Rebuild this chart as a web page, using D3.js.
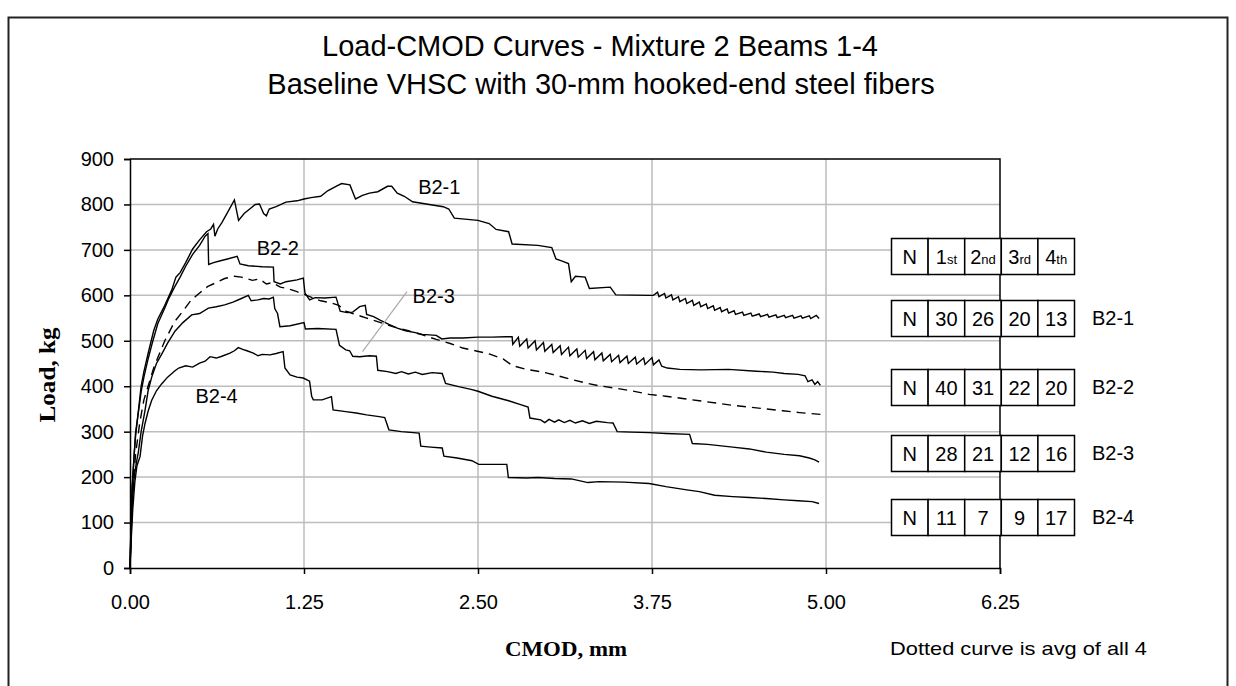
<!DOCTYPE html>
<html>
<head>
<meta charset="utf-8">
<script src="https://cdn.jsdelivr.net/npm/d3@7"></script>
<style>
  body { margin: 0; background: #fff; }
  svg { display: block; }
  text { font-family: "Liberation Sans", Arial, sans-serif; fill: #000; }
</style>
</head>
<body>
<svg></svg>
<script>
// Load-CMOD curves, mixture 2 beams 1-4

const xTicks = [0, 1.25, 2.5, 3.75, 5.0, 6.25];
const yTicks = [0, 100, 200, 300, 400, 500, 600, 700, 800, 900];

// [CMOD mm, load kg]
const b21 = [[0,0],[0.005,60],[0.01,130],[0.015,180],[0.02,200],[0.03,250],[0.04,290],[0.06,345],[0.08,400],[0.1,432],
  [0.13,472],[0.17,522],[0.2,548],[0.25,578],[0.3,612],[0.33,640],[0.36,650],[0.4,672],[0.45,702],[0.5,722],[0.55,740],
  [0.58,746],[0.6,756],[0.61,730],[0.63,746],[0.66,760],[0.7,782],[0.75,810],[0.78,765],[0.82,780],[0.86,790],[0.9,800],
  [0.93,801],[0.96,780],[0.98,775],[1.0,790],[1.05,795],[1.12,805],[1.2,808],[1.25,812],[1.3,815],[1.37,818],[1.42,830],
  [1.48,840],[1.52,846],[1.58,843],[1.62,812],[1.67,820],[1.72,825],[1.78,828],[1.85,840],[1.88,840],[1.92,825],[1.97,818],
  [2.03,806],[2.15,800],[2.25,795],[2.29,790],[2.33,770],[2.5,765],[2.58,758],[2.63,745],[2.72,740],[2.745,713],[2.93,710],
  [3.03,705],[3.06,680],[3.1,676],[3.15,670],[3.17,630],[3.2,642],[3.27,640],[3.3,615],[3.45,618],[3.49,601],[3.73,600],
  [3.76,600],[3.79,607],[3.8,597],[3.84,604],[3.85,594],[3.89,601],[3.9,590],[3.94,597],[3.95,586],[3.99,593],[4.0,582],
  [4.04,589],[4.05,578],[4.09,585],[4.1,575],[4.14,581],[4.15,571],[4.19,577],[4.2,567],[4.24,573],[4.25,564],[4.29,570],
  [4.3,561],[4.34,566],[4.35,558],[4.4,563],[4.41,556],[4.46,561],[4.47,554],[4.52,559],[4.53,553],[4.58,558],[4.59,552],
  [4.64,557],[4.65,551],[4.7,556],[4.71,551],[4.76,556],[4.77,550],[4.82,555],[4.83,550],[4.88,555],[4.89,549],[4.93,556],[4.95,549]];

const b22 = [[0,0],[0.005,70],[0.01,140],[0.02,200],[0.03,250],[0.04,298],[0.06,342],[0.08,388],[0.1,420],[0.13,460],
  [0.16,495],[0.2,538],[0.25,572],[0.28,594],[0.32,618],[0.36,640],[0.4,664],[0.45,690],[0.5,710],[0.54,730],[0.56,736],
  [0.565,668],[0.6,672],[0.65,676],[0.7,680],[0.77,686],[0.79,669],[0.85,665],[0.95,663],[1.03,662],[1.035,630],[1.08,625],
  [1.12,630],[1.2,634],[1.245,638],[1.257,605],[1.29,590],[1.33,595],[1.4,594],[1.48,596],[1.51,565],[1.56,562],[1.6,563],
  [1.65,575],[1.69,578],[1.7,558],[1.75,553],[1.8,545],[1.86,536],[1.92,528],[1.98,522],[2.05,518],[2.1,514],[2.2,512],
  [2.24,504],[2.3,506],[2.39,506],[2.5,508],[2.6,508],[2.7,509],[2.745,509],[2.75,492],[2.79,508],[2.8,488],[2.85,504],
  [2.86,484],[2.91,500],[2.92,480],[2.97,496],[2.98,477],[3.03,492],[3.04,474],[3.09,489],[3.1,470],[3.15,486],[3.16,467],
  [3.21,482],[3.22,464],[3.27,479],[3.28,461],[3.33,476],[3.34,458],[3.39,473],[3.4,456],[3.45,470],[3.46,454],[3.51,468],
  [3.52,452],[3.57,466],[3.58,450],[3.63,464],[3.64,449],[3.69,462],[3.7,448],[3.75,463],[3.76,447],[3.8,458],[3.82,444],
  [3.86,440],[3.95,437],[4.1,436],[4.3,437],[4.5,433],[4.62,431],[4.7,428],[4.8,426],[4.85,423],[4.87,410],[4.9,414],
  [4.92,404],[4.94,410],[4.96,402]];

const b23 = [[0,0],[0.01,90],[0.02,160],[0.03,200],[0.045,230],[0.06,255],[0.08,300],[0.108,347],[0.13,390],[0.156,420],
  [0.19,450],[0.227,470],[0.27,495],[0.323,521],[0.38,540],[0.443,557],[0.5,560],[0.563,572],[0.62,575],[0.68,579],
  [0.74,585],[0.8,593],[0.85,600],[0.87,588],[0.92,590],[0.96,593],[1.0,592],[1.03,596],[1.04,571],[1.06,560],[1.077,531],
  [1.15,533],[1.25,540],[1.26,526],[1.35,527],[1.48,525],[1.505,490],[1.55,480],[1.578,478],[1.6,466],[1.65,465],[1.72,467],
  [1.77,466],[1.78,435],[1.85,432],[1.91,428],[1.95,432],[2.0,427],[2.05,431],[2.1,426],[2.17,430],[2.243,428],[2.267,406],
  [2.36,399],[2.45,393],[2.5,389],[2.6,378],[2.72,368],[2.8,360],[2.86,354],[2.873,330],[2.95,326],[2.98,320],[3.01,327],
  [3.05,321],[3.08,326],[3.12,320],[3.16,325],[3.2,319],[3.25,324],[3.3,318],[3.35,323],[3.43,320],[3.47,319],[3.5,300],
  [3.6,299],[3.73,298],[3.85,296],[4.02,294],[4.04,274],[4.15,272],[4.33,266],[4.45,262],[4.57,255],[4.7,250],[4.81,247],
  [4.88,242],[4.92,238],[4.95,233]];

const b24 = [[0,0],[0.01,70],[0.02,130],[0.035,190],[0.05,225],[0.072,245],[0.09,290],[0.108,318],[0.13,345],[0.156,369],
  [0.19,390],[0.227,405],[0.27,420],[0.323,434],[0.35,440],[0.4,445],[0.45,442],[0.5,451],[0.54,455],[0.575,465],[0.62,462],
  [0.66,466],[0.718,473],[0.75,478],[0.778,485],[0.81,481],[0.84,478],[0.886,473],[0.92,467],[0.95,470],[1.006,469],
  [1.05,472],[1.1,476],[1.113,440],[1.15,425],[1.2,420],[1.245,418],[1.29,411],[1.305,378],[1.317,370],[1.38,370],
  [1.447,377],[1.459,348],[1.55,344],[1.625,341],[1.7,337],[1.79,333],[1.83,331],[1.86,304],[1.95,300],[2.077,297],
  [2.089,268],[2.16,266],[2.243,264],[2.255,246],[2.35,242],[2.457,236],[2.505,228],[2.6,228],[2.707,228],[2.718,199],
  [2.85,198],[2.932,199],[3.05,197],[3.17,196],[3.29,188],[3.37,190],[3.55,189],[3.73,186],[3.85,179],[4.0,172],[4.09,168],
  [4.2,160],[4.33,157],[4.45,155],[4.57,153],[4.7,150],[4.8,148],[4.9,146],[4.95,142]];

// average of the four beams (dashed)
const avg = [[0,0],[0.01,100],[0.02,170],[0.04,250],[0.07,320],[0.1,370],[0.13,400],[0.17,440],[0.2,463],[0.25,500],
  [0.32,542],[0.38,565],[0.44,590],[0.5,605],[0.56,620],[0.62,628],[0.68,637],[0.75,642],[0.8,640],[0.88,633],[0.93,636],
  [0.98,625],[1.02,628],[1.08,618],[1.13,615],[1.2,608],[1.25,602],[1.3,596],[1.37,588],[1.45,583],[1.5,578],[1.55,565],
  [1.6,560],[1.7,550],[1.8,540],[1.9,530],[2.0,522],[2.1,513],[2.2,503],[2.3,494],[2.39,484],[2.48,478],[2.58,471],
  [2.68,460],[2.75,445],[2.85,437],[2.95,432],[3.05,425],[3.17,415],[3.29,406],[3.37,401],[3.5,395],[3.6,390],[3.73,382],
  [3.85,378],[3.97,373],[4.09,368],[4.21,363],[4.33,358],[4.45,354],[4.57,350],[4.69,346],[4.81,342],[4.96,338]];

const curveLabels = [
  {name: 'B2-1', cmod: 2.07, load: 822},
  {name: 'B2-2', cmod: 0.91, load: 688},
  {name: 'B2-3', cmod: 2.03, load: 583},
  {name: 'B2-4', cmod: 0.47, load: 362}
];

// crack counts per table
const tableHeader = ['N', '1st', '2nd', '3rd', '4th'];
const beams = ['B2-1', 'B2-2', 'B2-3', 'B2-4'];
const counts = [[30, 26, 20, 13], [40, 31, 22, 20], [28, 21, 12, 16], [11, 7, 9, 17]];

const W = 1236, H = 686;
const svg = d3.select('svg').attr('width', W).attr('height', H);

// outer frame
svg.append('rect')
  .attr('x', 8.5).attr('y', 17.5).attr('width', 1219).attr('height', 700)
  .attr('fill', 'none').attr('stroke', '#222').attr('stroke-width', 2);

svg.append('text')
  .attr('x', 600).attr('y', 56).attr('text-anchor', 'middle')
  .style('font-size', '29px')
  .text('Load-CMOD Curves - Mixture 2 Beams 1-4');
svg.append('text')
  .attr('x', 601).attr('y', 94).attr('text-anchor', 'middle')
  .style('font-size', '29px')
  .text('Baseline VHSC with 30-mm hooked-end steel fibers');

const x = d3.scaleLinear().domain([0, 6.25]).range([130, 1000]);
const y = d3.scaleLinear().domain([0, 900]).range([568, 159]);

// grid
svg.append('g').selectAll('line')
  .data(yTicks.filter(d => d > 0 && d < 900))
  .join('line')
  .attr('x1', x(0)).attr('x2', x(6.25))
  .attr('y1', d => y(d)).attr('y2', d => y(d))
  .attr('stroke', '#bdbdbd').attr('stroke-width', 1.5);
svg.append('g').selectAll('line')
  .data(xTicks.filter(d => d > 0 && d < 6.25))
  .join('line')
  .attr('x1', d => x(d)).attr('x2', d => x(d))
  .attr('y1', y(0)).attr('y2', y(900))
  .attr('stroke', '#bdbdbd').attr('stroke-width', 1.5);

// top and right border of the plot area
svg.append('path')
  .attr('d', `M${x(0)},${y(900)}H${x(6.25)}V${y(0)}`)
  .attr('fill', 'none').attr('stroke', '#000').attr('stroke-width', 1.5);

const yAxis = svg.append('g')
  .attr('transform', `translate(${x(0)},0)`)
  .call(d3.axisLeft(y).tickValues(yTicks).tickSize(6).tickPadding(10).tickFormat(d3.format('d')));
const xAxis = svg.append('g')
  .attr('transform', `translate(0,${y(0)})`)
  .call(d3.axisBottom(x).tickValues(xTicks).tickSize(6).tickFormat(d3.format('.2f')));

[yAxis, xAxis].forEach(g => {
  g.select('.domain').attr('stroke', '#000').attr('stroke-width', 1.5);
  g.selectAll('.tick line').attr('stroke', '#000').attr('stroke-width', 1.5);
  g.selectAll('.tick text')
    .style('font-family', '"Liberation Sans", Arial, sans-serif')
    .style('font-size', '20px').attr('fill', '#000');
});
xAxis.selectAll('.tick text').attr('y', 27);

svg.append('text')
  .attr('transform', 'translate(55,375) rotate(-90)')
  .attr('text-anchor', 'middle')
  .attr('textLength', 95).attr('lengthAdjust', 'spacingAndGlyphs')
  .style('font-family', '"Liberation Serif", serif').style('font-weight', 'bold').style('font-size', '23px')
  .text('Load, kg');
svg.append('text')
  .attr('x', 566).attr('y', 656).attr('text-anchor', 'middle')
  .attr('textLength', 122).attr('lengthAdjust', 'spacingAndGlyphs')
  .style('font-family', '"Liberation Serif", serif').style('font-weight', 'bold').style('font-size', '22px')
  .text('CMOD, mm');
svg.append('text')
  .attr('x', 890).attr('y', 655)
  .attr('textLength', 257).attr('lengthAdjust', 'spacingAndGlyphs')
  .style('font-size', '19px')
  .text('Dotted curve is avg of all 4');

// curves
const line = d3.line().x(d => x(d[0])).y(d => y(d[1]));
const series = [
  {data: b21, dash: null},
  {data: b22, dash: null},
  {data: b23, dash: null},
  {data: b24, dash: null},
  {data: avg, dash: '9,6'}
];
svg.append('g').selectAll('path')
  .data(series)
  .join('path')
  .attr('d', d => line(d.data))
  .attr('fill', 'none')
  .attr('stroke', '#000')
  .attr('stroke-width', 1.4)
  .attr('stroke-dasharray', d => d.dash);

// leader line for B2-3
svg.append('line')
  .attr('x1', x(1.99)).attr('y1', y(608))
  .attr('x2', x(1.67)).attr('y2', y(476))
  .attr('stroke', '#aaa').attr('stroke-width', 1.2);

svg.append('g').selectAll('text')
  .data(curveLabels)
  .join('text')
  .attr('x', d => x(d.cmod)).attr('y', d => y(d.load))
  .style('font-size', '20px')
  .text(d => d.name);

// crack-count tables
const col = d3.scaleBand().domain(d3.range(5)).range([891, 1074]);
const rowTops = [238, 300, 369, 435, 499];
const rowH = 36;
const rows = [tableHeader].concat(counts.map(c => ['N'].concat(c)));

const tables = svg.append('g').selectAll('g')
  .data(rows)
  .join('g')
  .attr('transform', (d, i) => `translate(0,${rowTops[i]})`);

tables.selectAll('rect')
  .data(d => d.map((v, j) => ({v, j})))
  .join('rect')
  .attr('x', d => col(d.j) + 0.5).attr('y', 0.5)
  .attr('width', col.bandwidth()).attr('height', rowH)
  .attr('fill', '#fff').attr('stroke', '#000').attr('stroke-width', 1.5);

tables.each(function(d, i) {
  const g = d3.select(this);
  d.forEach((v, j) => {
    const t = g.append('text')
      .attr('x', col(j) + col.bandwidth() / 2 + 0.5).attr('y', rowH / 2 + 8)
      .attr('text-anchor', 'middle')
      .style('font-size', '20px');
    const s = String(v);
    const m = s.match(/^(\d)(st|nd|rd|th)$/);
    if (m) {
      t.append('tspan').text(m[1]);
      t.append('tspan').style('font-size', '13px').text(m[2]);
    } else {
      t.text(s);
    }
  });
  if (i > 0) {
    g.append('text')
      .attr('x', 1092).attr('y', rowH / 2 + 7)
      .style('font-size', '20px')
      .text(beams[i - 1]);
  }
});
</script>
</body>
</html>
